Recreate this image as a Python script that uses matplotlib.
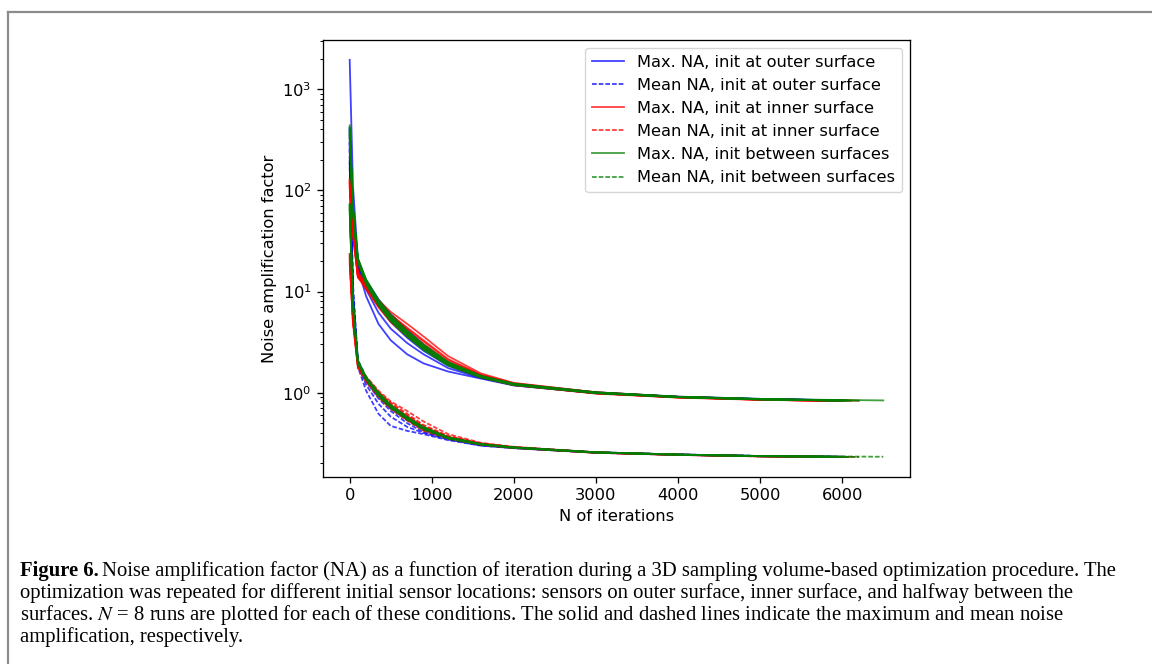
import matplotlib
matplotlib.use("Agg")
import matplotlib.pyplot as plt
from matplotlib.lines import Line2D

# iteration grid shared by every run; each run also has its own last iteration
ITERS = [0, 40, 100, 200, 350, 500, 700, 900, 1200, 1600, 2000, 3000, 4000, 5000]

outer_end = [5900, 6000, 5850, 5950, 6050, 5900, 5800, 6000]
inner_end = [5900, 6200, 5950, 5850, 6000, 5900, 6100, 5950]
between_end = [6500, 6200, 5950, 6000, 5900, 6100, 5850, 6050]

outer_max = [
    [1950, 110, 21, 12.5, 7.8, 5.5, 3.9, 2.8, 1.95, 1.45, 1.22, 1.00, 0.91, 0.865, 0.84],
    [380, 55, 17, 9.0, 4.8, 3.3, 2.4, 1.95, 1.62, 1.38, 1.18, 0.99, 0.905, 0.86, 0.84],
    [330, 60, 18, 10.5, 6.2, 4.3, 3.1, 2.4, 1.75, 1.40, 1.20, 0.99, 0.91, 0.865, 0.845],
    [290, 58, 20, 12.8, 8.2, 5.8, 4.0, 2.9, 1.95, 1.44, 1.21, 1.00, 0.91, 0.86, 0.84],
    [410, 62, 19, 12.0, 7.5, 5.2, 3.6, 2.7, 1.88, 1.43, 1.20, 1.00, 0.905, 0.86, 0.84],
    [260, 52, 20, 13.0, 8.4, 6.0, 4.2, 3.0, 2.0, 1.46, 1.22, 1.01, 0.915, 0.87, 0.845],
    [350, 57, 18.5, 11.5, 7.2, 5.0, 3.5, 2.6, 1.85, 1.41, 1.19, 0.99, 0.905, 0.86, 0.84],
    [300, 55, 19.5, 12.2, 7.9, 5.6, 3.9, 2.8, 1.92, 1.44, 1.21, 1.00, 0.91, 0.865, 0.84],
]
outer_mean = [
    [420, 12, 2.0, 1.30, 0.88, 0.66, 0.50, 0.41, 0.35, 0.305, 0.285, 0.256, 0.244, 0.236, 0.232],
    [250, 9, 1.8, 1.05, 0.62, 0.47, 0.42, 0.39, 0.34, 0.30, 0.283, 0.255, 0.243, 0.236, 0.232],
    [190, 8, 1.9, 1.20, 0.78, 0.58, 0.46, 0.40, 0.345, 0.30, 0.284, 0.256, 0.244, 0.236, 0.232],
    [300, 10, 2.05, 1.38, 0.97, 0.74, 0.56, 0.44, 0.36, 0.31, 0.288, 0.258, 0.245, 0.237, 0.233],
    [220, 9, 1.95, 1.33, 0.93, 0.70, 0.54, 0.43, 0.355, 0.308, 0.286, 0.257, 0.245, 0.237, 0.233],
    [170, 7.5, 2.1, 1.42, 1.00, 0.76, 0.58, 0.45, 0.365, 0.312, 0.289, 0.258, 0.245, 0.237, 0.233],
    [260, 9.5, 1.98, 1.34, 0.94, 0.71, 0.545, 0.435, 0.355, 0.307, 0.286, 0.257, 0.244, 0.236, 0.232],
    [200, 8.5, 2.02, 1.37, 0.96, 0.73, 0.555, 0.44, 0.36, 0.31, 0.287, 0.257, 0.245, 0.237, 0.233],
]

inner_max = [
    [130, 42, 15, 11.5, 7.8, 5.8, 4.3, 3.2, 2.1, 1.50, 1.24, 1.01, 0.91, 0.86, 0.835],
    [120, 40, 14, 11.0, 8.2, 6.3, 4.8, 3.6, 2.3, 1.55, 1.25, 1.01, 0.91, 0.86, 0.835],
    [110, 38, 14.5, 10.8, 7.2, 5.2, 3.8, 2.8, 1.9, 1.42, 1.19, 0.99, 0.90, 0.855, 0.83],
    [125, 41, 15.5, 12.0, 8.0, 5.6, 4.0, 2.9, 1.95, 1.44, 1.20, 0.99, 0.90, 0.855, 0.83],
    [118, 39, 14, 10.5, 7.0, 5.0, 3.6, 2.7, 1.88, 1.42, 1.19, 0.98, 0.895, 0.85, 0.83],
    [105, 36, 13.8, 11.2, 7.6, 5.5, 4.0, 3.0, 2.0, 1.46, 1.21, 1.00, 0.905, 0.855, 0.83],
    [128, 43, 15.2, 11.8, 7.9, 5.9, 4.4, 3.3, 2.15, 1.50, 1.23, 1.00, 0.905, 0.86, 0.835],
    [115, 39, 14.6, 11.0, 7.4, 5.4, 3.9, 2.85, 1.95, 1.44, 1.20, 0.99, 0.90, 0.855, 0.83],
]
inner_mean = [
    [24, 5.5, 1.9, 1.40, 1.00, 0.78, 0.60, 0.47, 0.37, 0.315, 0.29, 0.257, 0.244, 0.236, 0.232],
    [22, 5.2, 1.85, 1.45, 1.05, 0.82, 0.66, 0.52, 0.39, 0.32, 0.292, 0.258, 0.245, 0.236, 0.232],
    [20, 5.0, 1.8, 1.30, 0.92, 0.70, 0.54, 0.43, 0.355, 0.307, 0.285, 0.255, 0.243, 0.235, 0.231],
    [23, 5.4, 1.95, 1.38, 0.97, 0.74, 0.57, 0.45, 0.36, 0.31, 0.287, 0.256, 0.244, 0.236, 0.232],
    [21, 5.1, 1.75, 1.28, 0.90, 0.69, 0.53, 0.42, 0.35, 0.305, 0.284, 0.255, 0.243, 0.235, 0.231],
    [19, 4.8, 1.85, 1.35, 0.96, 0.75, 0.59, 0.46, 0.365, 0.312, 0.288, 0.256, 0.244, 0.236, 0.232],
    [24, 5.6, 1.92, 1.42, 1.02, 0.80, 0.62, 0.48, 0.375, 0.316, 0.29, 0.257, 0.244, 0.236, 0.232],
    [22, 5.3, 1.88, 1.36, 0.95, 0.73, 0.56, 0.44, 0.358, 0.309, 0.286, 0.256, 0.243, 0.235, 0.231],
]

between_max = [
    [440, 70, 21, 12.8, 8.0, 5.6, 3.9, 2.85, 1.95, 1.45, 1.22, 1.00, 0.91, 0.865, 0.84],
    [390, 65, 20, 12.2, 7.6, 5.3, 3.7, 2.7, 1.88, 1.43, 1.20, 1.00, 0.905, 0.86, 0.835],
    [360, 62, 20.5, 12.6, 7.9, 5.6, 3.95, 2.9, 1.98, 1.46, 1.22, 1.01, 0.91, 0.865, 0.84],
    [420, 68, 19.5, 11.8, 7.3, 5.1, 3.6, 2.65, 1.85, 1.41, 1.19, 0.99, 0.905, 0.86, 0.835],
    [330, 60, 21.5, 13.2, 8.3, 5.9, 4.1, 3.0, 2.02, 1.47, 1.23, 1.01, 0.915, 0.87, 0.84],
    [400, 66, 20, 12.0, 7.5, 5.2, 3.65, 2.7, 1.9, 1.43, 1.20, 0.995, 0.905, 0.86, 0.835],
    [370, 63, 20.8, 12.9, 8.1, 5.7, 4.0, 2.9, 1.96, 1.45, 1.21, 1.00, 0.91, 0.865, 0.84],
    [350, 61, 19.8, 12.4, 7.7, 5.4, 3.8, 2.8, 1.92, 1.44, 1.21, 1.00, 0.91, 0.86, 0.835],
]
between_mean = [
    [75, 8, 2.05, 1.40, 0.98, 0.74, 0.57, 0.45, 0.36, 0.31, 0.288, 0.258, 0.245, 0.237, 0.233],
    [70, 7.5, 2.0, 1.36, 0.95, 0.72, 0.55, 0.44, 0.355, 0.308, 0.286, 0.257, 0.244, 0.236, 0.232],
    [65, 7.2, 2.1, 1.44, 1.01, 0.76, 0.58, 0.46, 0.365, 0.312, 0.289, 0.258, 0.245, 0.237, 0.233],
    [72, 7.8, 1.95, 1.32, 0.92, 0.70, 0.54, 0.43, 0.35, 0.306, 0.285, 0.256, 0.244, 0.236, 0.232],
    [68, 7.4, 2.08, 1.42, 1.00, 0.75, 0.575, 0.455, 0.362, 0.31, 0.288, 0.258, 0.245, 0.237, 0.233],
    [60, 6.8, 2.02, 1.38, 0.96, 0.73, 0.56, 0.445, 0.358, 0.309, 0.287, 0.257, 0.244, 0.236, 0.232],
    [74, 7.9, 1.98, 1.34, 0.94, 0.71, 0.55, 0.44, 0.354, 0.307, 0.286, 0.257, 0.244, 0.236, 0.232],
    [66, 7.3, 2.04, 1.39, 0.97, 0.735, 0.565, 0.45, 0.36, 0.31, 0.287, 0.257, 0.245, 0.237, 0.233],
]

conditions = [
    ("b", outer_max, outer_mean, outer_end, "init at outer surface"),
    ("r", inner_max, inner_mean, inner_end, "init at inner surface"),
    ("g", between_max, between_mean, between_end, "init between surfaces"),
]

caption_lines = [
    "Noise amplification factor (NA) as a function of iteration during a 3D sampling volume-based optimization procedure. The",
    "optimization was repeated for different initial sensor locations: sensors on outer surface, inner surface, and halfway between the",
    "surfaces. $N$ = 8 runs are plotted for each of these conditions. The solid and dashed lines indicate the maximum and mean noise",
    "amplification, respectively.",
]

plt.rcParams.update({
    "font.size": 11.7,
    "axes.linewidth": 0.94,
    "xtick.major.size": 4.1, "xtick.major.width": 0.94, "xtick.major.pad": 4.1,
    "ytick.major.size": 4.1, "ytick.major.width": 0.94, "ytick.major.pad": 4.1,
    "ytick.minor.size": 2.3, "ytick.minor.width": 0.7,
    "mathtext.fontset": "stix",
})

W, H = 1152, 664
fig = plt.figure(figsize=(W / 100, H / 100), dpi=100)
ax = fig.add_axes([323 / W, 1 - 477 / H, 587 / W, 437 / H])

dashed = (0, (2.6, 1.1))
for col, mx, mn, ends, lab in conditions:
    for i in range(len(mx)):
        xs = ITERS + [ends[i]]
        ax.plot(xs, mx[i], color=col, ls="-", lw=1.3, alpha=0.75,
                label=f"Max. NA, {lab}" if i == 0 else None)
        ax.plot(xs, mn[i], color=col, ls=dashed, lw=1.3, alpha=0.75,
                label=f"Mean NA, {lab}" if i == 0 else None)

ax.set_yscale("log")
ax.set_xlabel("N of iterations")
ax.set_ylabel("Noise amplification factor")
ax.legend(loc="upper right")

# page frame around the figure block
frame = dict(color="#8c8c8c", lw=1.6, transform=fig.transFigure)
fig.add_artist(Line2D([8 / W, 8 / W], [0, 1 - 12 / H], **frame))
fig.add_artist(Line2D([8 / W, 1], [1 - 12 / H, 1 - 12 / H], **frame))

# caption below the plot
serif = "Liberation Serif"
baselines = [576, 598, 620, 642]
x0 = 20 / W
bold = fig.text(x0, 1 - baselines[0] / H, "Figure 6.", family=serif,
                weight="bold", fontsize=14, va="baseline")
texts = []
for k, line in enumerate(caption_lines):
    texts.append(fig.text(x0, 1 - baselines[k] / H, line, family=serif,
                          fontsize=14, va="baseline"))

# scale caption so the second line spans the text block
fig.canvas.draw()
r = fig.canvas.get_renderer()
w2 = texts[1].get_window_extent(r).width
fs = 14 * (1080 - 20) / w2
bold.set_fontsize(fs)
for t in texts:
    t.set_fontsize(fs)
fig.canvas.draw()
bw = bold.get_window_extent(r).width
texts[0].set_x(x0 + (bw + 0.25 * fs) / W)

fig.savefig("out.png", dpi=100)
